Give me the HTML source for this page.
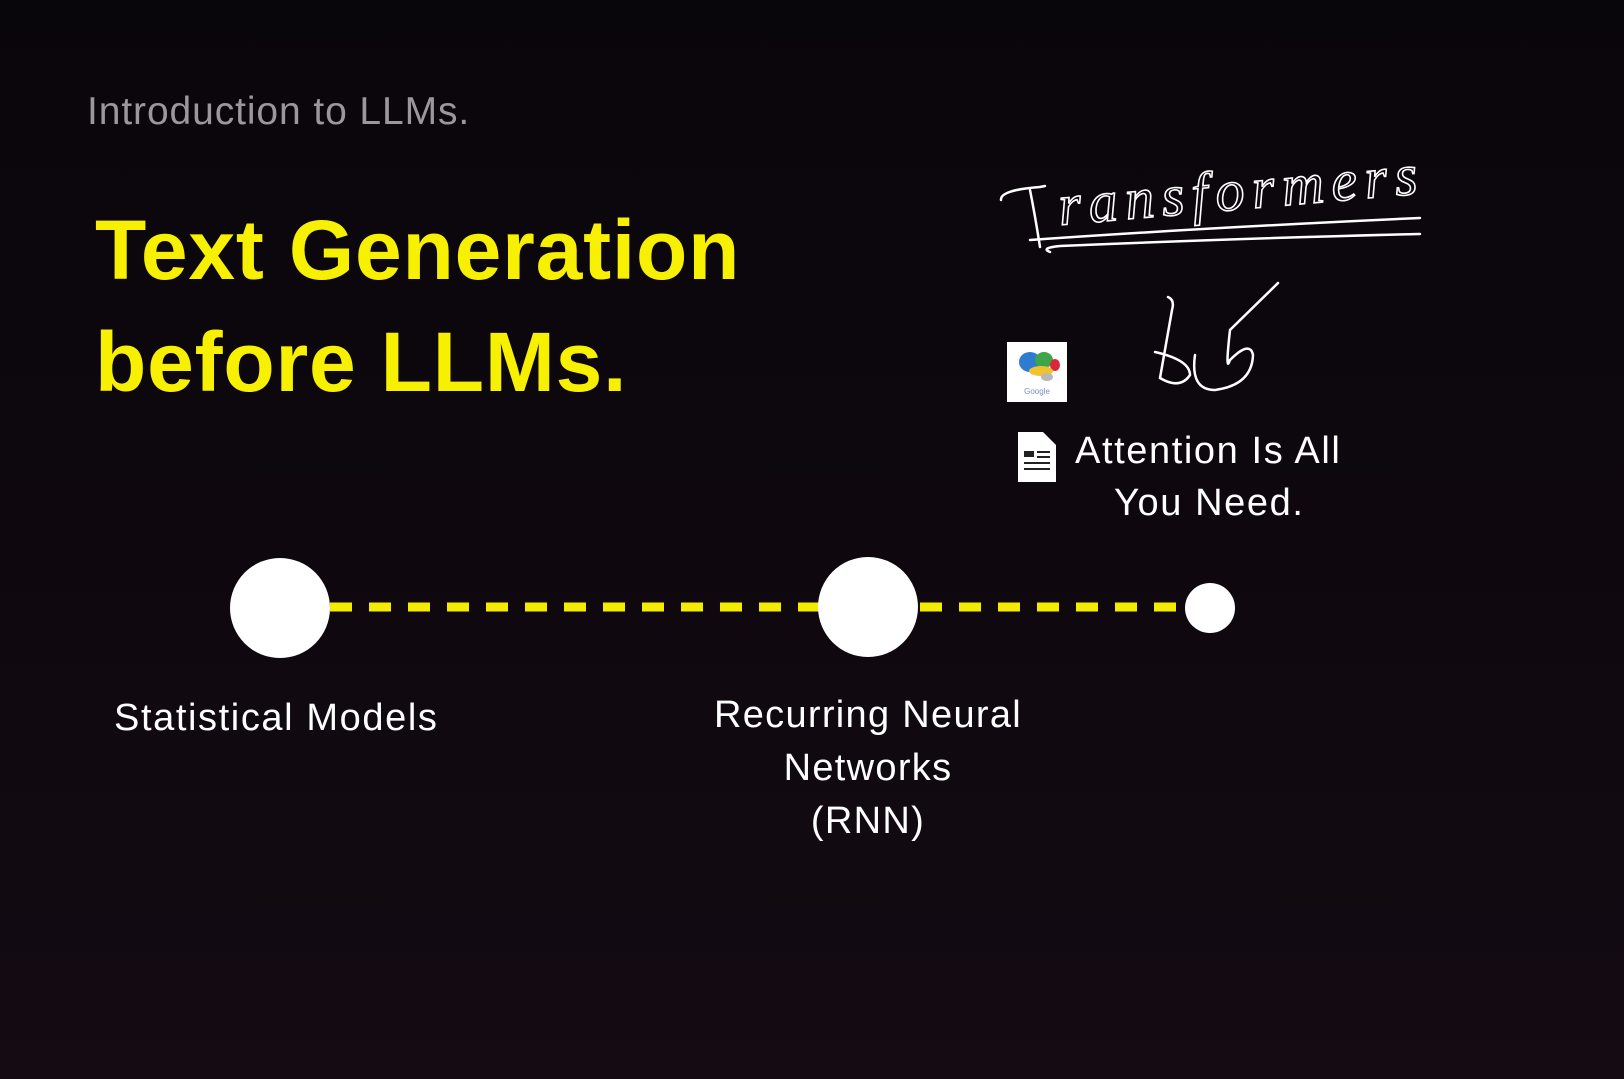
<!DOCTYPE html>
<html><head><meta charset="utf-8"><style>
html,body{margin:0;padding:0}
body{width:1624px;height:1079px;position:relative;overflow:hidden;background:linear-gradient(180deg,#09060b 0%,#0e080e 50%,#140b13 100%);font-family:"Liberation Sans",sans-serif}
.t{position:absolute;white-space:nowrap}
</style></head><body>
<div class="t" style="left:87px;top:90px;font-size:39px;color:#9b979c;letter-spacing:0.9px;">Introduction to LLMs.</div>
<div class="t" style="left:95px;top:194px;font-size:84px;font-weight:bold;color:#f7f000;line-height:112px;letter-spacing:0.8px;">Text Generation<br>before LLMs.</div>
<svg width="1624" height="1079" style="position:absolute;left:0;top:0">
<line x1="330" y1="607" x2="820" y2="607" stroke="#f4ec00" stroke-width="9" stroke-dasharray="22,17"/>
<line x1="920" y1="607" x2="1185" y2="607" stroke="#f4ec00" stroke-width="9" stroke-dasharray="22,17"/>
<circle cx="280" cy="608" r="50" fill="#fff"/>
<circle cx="868" cy="607" r="50" fill="#fff"/>
<circle cx="1210" cy="608" r="25" fill="#fff"/>
<g fill="none" stroke="#fff" stroke-width="2.5" stroke-linecap="round">
<path d="M1001 200 Q1000 190 1040 187 L1045 186"/>
<path d="M1030 190 Q1035 215 1040 247"/>
<path d="M1030 240 Q1200 228 1420 218"/>
<path d="M1050 252 Q1040 248 1060 246 Q1250 238 1420 234"/>
<path d="M1168 297 Q1175 300 1172 310 L1160 378 Q1180 390 1190 375 Q1190 360 1155 352"/>
<path d="M1195 355 Q1190 390 1215 390 Q1252 385 1253 355 Q1250 340 1230 360 Q1225 375 1230 330 L1278 283"/>
</g>
<text x="1060" y="225" font-family="Liberation Serif,serif" font-style="italic" font-size="58" fill="none" stroke="#fff" stroke-width="1.6" transform="rotate(-5 1060 225)" textLength="360">ransformers</text>
<rect x="1007" y="342" width="60" height="60" fill="#fff"/>
<ellipse cx="1030" cy="362" rx="11" ry="10" fill="#2f7bd0"/>
<ellipse cx="1044" cy="360" rx="9" ry="8" fill="#3fa54a"/>
<ellipse cx="1055" cy="365" rx="5" ry="6" fill="#d8283a"/>
<ellipse cx="1041" cy="371" rx="12" ry="5" fill="#f2c12e"/>
<ellipse cx="1047" cy="377" rx="6" ry="4" fill="#b8b8b8"/>
<text x="1037" y="394" font-size="8" text-anchor="middle" fill="#7a8fc9">Google</text>
<path d="M1018 432 H1043 L1056 445 V482 H1018 Z" fill="#fff"/>
<g fill="#222"><rect x="1024" y="451" width="10" height="6"/><rect x="1037" y="451" width="13" height="2"/><rect x="1037" y="456" width="13" height="2"/><rect x="1024" y="462" width="26" height="2"/><rect x="1024" y="468" width="26" height="2"/></g>
</svg>
<div class="t" style="left:1075px;top:430px;font-size:38px;color:#fff;letter-spacing:1.6px;">Attention Is All</div>
<div class="t" style="left:1114px;top:482px;font-size:38px;color:#fff;letter-spacing:1.6px;">You Need.</div>
<div class="t" style="left:114px;top:697px;font-size:38px;color:#fff;letter-spacing:1.6px;">Statistical Models</div>
<div class="t" style="left:668px;top:689px;width:400px;text-align:center;font-size:38px;line-height:53px;color:#fff;letter-spacing:1.3px;">Recurring Neural<br>Networks<br>(RNN)</div>
</body></html>
